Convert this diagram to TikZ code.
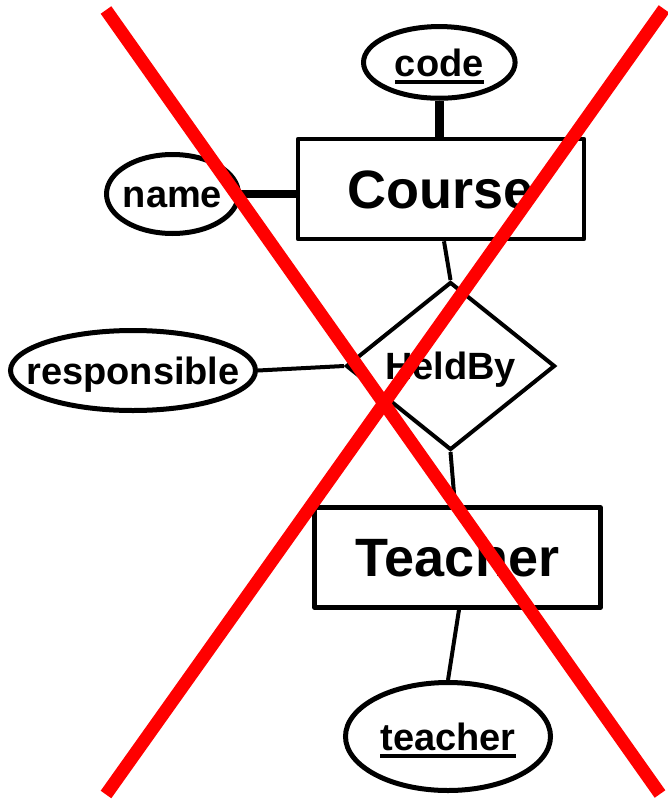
\documentclass[tikz,border=0pt]{standalone}
\usepackage{fontspec}
\setmainfont{Liberation Sans}
\usetikzlibrary{shapes.geometric}
% key attribute: text with a heavy rule below it
\newcommand{\keyattr}[1]{\setbox0\hbox{#1}\rlap{\raisebox{-8pt}{\rule{\wd0}{4pt}}}\box0}
\begin{document}
\begin{tikzpicture}[x=1pt,y=-1pt,
  entity/.style={draw,line width=4.5pt,line join=round,rectangle,inner sep=0pt,
    minimum width=286pt,minimum height=100pt,font=\fontsize{54}{60}\selectfont\bfseries,
    text height=38.7pt,text depth=0pt},
  attr/.style={draw,line width=5pt,ellipse,inner ysep=0pt,inner xsep=-40pt,
    font=\fontsize{38}{44}\selectfont\bfseries,text height=27.2pt,text depth=0pt},
  rel/.style={draw,line width=4pt,line join=miter,diamond,inner sep=0pt,aspect=1.244,
    minimum width=209pt,minimum height=168pt,
    font=\fontsize{38}{44}\selectfont\bfseries,text height=27.2pt,text depth=0pt},
  link/.style={line width=4pt},
  heavylink/.style={line width=8.5pt},
  cross/.style={draw=red,line width=13pt}]
\useasboundingbox (0,0) rectangle (668,800);

% entities
\node[entity] (course) at (441,189) {Course};
\node[entity] (teacher) at (457.5,557.5) {Teacher};

% relationship
\node[rel] (heldby) at (450.5,366) {HeldBy};

% attributes
\node[attr,minimum width=151.6pt,minimum height=71.7pt] (code) at (439.3,62.4) {\keyattr{code}};
\node[attr,minimum width=132pt,minimum height=79pt] (name) at (172.5,194) {name};
\node[attr,minimum width=245pt,minimum height=80pt] (resp) at (133,370.5) {responsible};
\node[attr,minimum width=205pt,minimum height=108pt] (tattr) at (448,736.5) {\keyattr{teacher}};

% connectors
\draw[heavylink] (code.south) -- (code.south |- course.north);
\draw[heavylink] (name.east) -- (name.east -| course.west);
\draw[link] ([xshift=3pt]course.south) -- (heldby.north);
\draw[link] (resp.east) -- (heldby.west);
\draw[link] (heldby.south) -- ([xshift=-2.5pt]teacher.north);
\draw[link] ([xshift=1.5pt]teacher.south) -- (tattr.north);

% crossing-out strokes
\coordinate (a1) at (106,10);
\coordinate (a2) at (660,794);
\coordinate (b1) at (664,9);
\coordinate (b2) at (106,794.5);
\draw[cross] (a1) -- (a2);
\draw[cross] (b1) -- (b2);
\end{tikzpicture}
\end{document}
